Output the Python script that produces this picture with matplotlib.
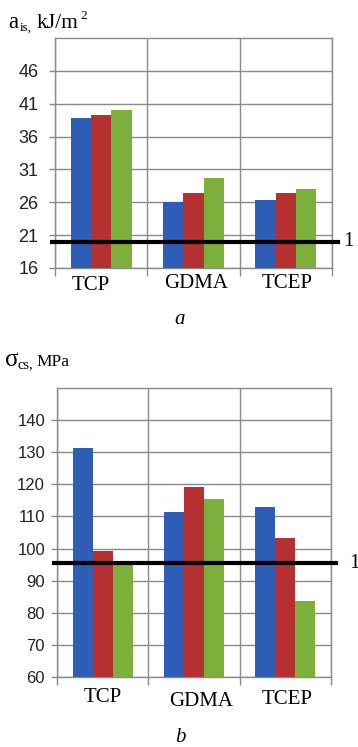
import matplotlib
matplotlib.use("Agg")
import matplotlib.pyplot as plt
import numpy as np

categories = ["TCP", "GDMA", "TCEP"]
impact_blue = [38.9, 26.0, 26.3]
impact_red = [39.3, 27.4, 27.4]
impact_green = [40.0, 29.7, 28.0]
impact_ref = 20.0
impact_ticks = [16, 21, 26, 31, 36, 41, 46]

comp_blue = [131.2, 111.3, 112.8]
comp_red = [99.2, 119.3, 103.3]
comp_green = [95.4, 115.5, 83.8]
comp_ref = 95.5
comp_ticks = [60, 70, 80, 90, 100, 110, 120, 130, 140]

colors = ["#2E5DB5", "#B53030", "#7DB03A"]
grid_c = "#8a8a8a"
SERIF = ['Liberation Serif', 'DejaVu Serif']
SANS = ['Liberation Sans', 'DejaVu Sans']

plt.rcParams['font.family'] = SERIF

fig = plt.figure(figsize=(3.58, 7.47), dpi=100)

def draw(ax, series, ylim, ticks, ref, tick_fs, tick_pad, lab_pos):
    x = np.arange(len(categories))
    w = 0.22
    for i, (vals, c) in enumerate(zip(series, colors)):
        ax.bar(x + (i - 1) * w, np.array(vals) - ylim[0], bottom=ylim[0],
               width=w, color=c, zorder=3, linewidth=0)
    ax.set_xlim(-0.5, 2.5)
    ax.set_ylim(*ylim)
    ax.set_yticks(ticks)
    ax.set_yticklabels([str(t) for t in ticks], family=SANS,
                       fontsize=tick_fs, color='#222222')
    ax.set_xticks([-0.5, 0.5, 1.5, 2.5])
    ax.set_xticklabels([])
    ax.tick_params(axis='x', length=6, color=grid_c, width=1)
    ax.tick_params(axis='y', length=4, color=grid_c, width=1, pad=tick_pad)
    ax.grid(True, axis='both', color=grid_c, linewidth=1.0, zorder=0)
    for s in ax.spines.values():
        s.set_color(grid_c)
        s.set_linewidth(1.0)
    ax.axhline(ref, xmin=-0.01, xmax=1.02, color='black', linewidth=3, zorder=5, clip_on=False)
    for xi, lab, (dx, yy) in zip(x, categories, lab_pos):
        ax.text(xi + dx, yy, lab, transform=ax.get_xaxis_transform(),
                ha='center', va='center', fontsize=15, family=SERIF)

# top chart
ax1 = fig.add_axes([55/358, 1 - 268/747, 277/358, 230/747])
draw(ax1, [impact_blue, impact_red, impact_green], (16, 51), impact_ticks, impact_ref,
     13, 8, [(-0.11, -17/230), (0.03, -15/230), (0.01, -16/230)])
ax1.text(1.04, impact_ref, "1", transform=ax1.get_yaxis_transform(), ha='left', va='center',
         fontsize=15, family=SERIF)

# bottom chart
ax2 = fig.add_axes([57/358, 1 - 677/747, 274/358, 289/747])
draw(ax2, [comp_blue, comp_red, comp_green], (60, 150), comp_ticks, comp_ref,
     12, 4.6, [(0.0, -21/289), (0.08, -24/289), (0.02, -22/289)])
ax2.text(1.065, comp_ref, "1", transform=ax2.get_yaxis_transform(), ha='left', va='center',
         fontsize=15, family=SERIF)

def px(x, y):
    return x / 358, 1 - y / 747

# y-axis title of chart a
fig.text(*px(8, 28), "a", ha='left', va='baseline', fontsize=16.5, family=SERIF)
fig.text(*px(20, 31), "is,", ha='left', va='baseline', fontsize=9.5, family=SERIF)
fig.text(*px(37, 28), "kJ/m", ha='left', va='baseline', fontsize=15.5, family=SERIF)
fig.text(*px(80, 19), "2", ha='left', va='baseline', fontsize=9.5, family=SERIF)

# y-axis title of chart b
fig.text(*px(5, 366), "σ", ha='left', va='baseline', fontsize=18, family=SERIF)
fig.text(*px(18, 368), "cs,", ha='left', va='baseline', fontsize=10.5, family=SERIF)
fig.text(*px(36, 366), "MPa", ha='left', va='baseline', fontsize=12.5, family=SERIF)

fig.text(*px(180, 320), "a", ha='center', va='center', fontsize=15, style='italic', family=SERIF)
fig.text(*px(180, 738), "b", ha='center', va='center', fontsize=15, style='italic', family=SERIF)

fig.savefig("out.png", dpi=100)
